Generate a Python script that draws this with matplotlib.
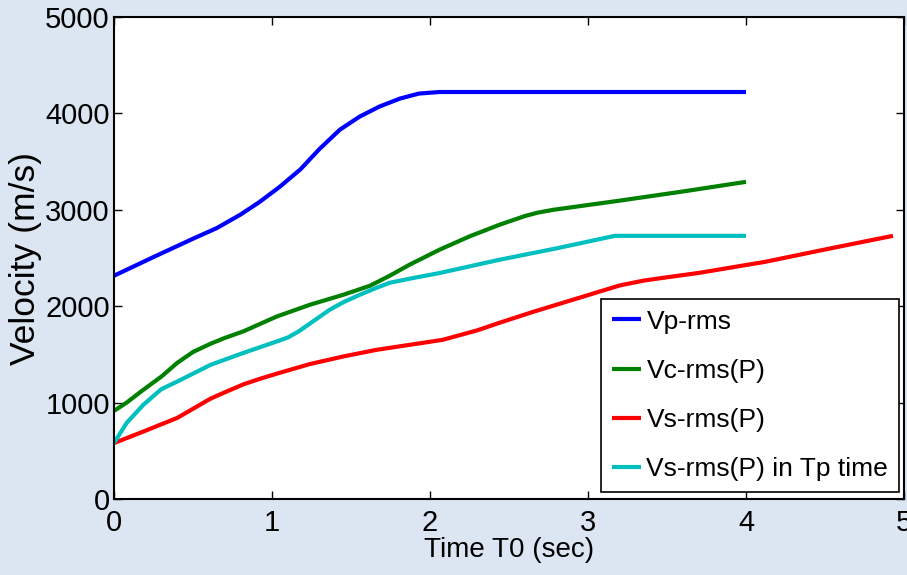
import matplotlib
matplotlib.use("Agg")
import matplotlib.pyplot as plt

# ---- data ----
t_vp = [0, 0.25, 0.5, 0.65, 0.8, 0.92, 1.05, 1.18, 1.30, 1.43, 1.555, 1.68, 1.81, 1.93, 2.06, 3.0, 4.0]
vp = [2316, 2510, 2700, 2810, 2950, 3080, 3240, 3420, 3630, 3832, 3967, 4071, 4154, 4206, 4222, 4222, 4222]

t_vc = [0, 0.08, 0.185, 0.30, 0.40, 0.50, 0.61, 0.70, 0.82, 1.03, 1.24, 1.45, 1.62, 1.745, 1.87, 2.06,
        2.25, 2.44, 2.6, 2.68, 2.78, 3.2, 3.6, 4.0]
vc = [914, 1000, 1132, 1270, 1412, 1525, 1610, 1670, 1740, 1893, 2015, 2118, 2212, 2316, 2430, 2586,
      2724, 2845, 2935, 2970, 3000, 3095, 3190, 3290]

t_vs = [0, 0.185, 0.40, 0.61, 0.72, 0.82, 0.92, 1.03, 1.24, 1.45, 1.66, 1.87, 2.08, 2.3, 2.44, 2.65,
        3.07, 3.2, 3.35, 3.5, 3.70, 4.12, 4.55, 4.93]
vs = [580, 699, 841, 1040, 1120, 1190, 1245, 1300, 1400, 1478, 1547, 1599, 1651, 1750, 1828, 1940,
      2150, 2215, 2265, 2300, 2345, 2460, 2605, 2730]

t_vst = [0, 0.08, 0.185, 0.30, 0.40, 0.61, 0.82, 1.03, 1.10, 1.17, 1.24, 1.365, 1.45, 1.555, 1.66,
         1.745, 1.87, 2.06, 2.25, 2.44, 2.8, 3.17, 4.0]
vst = [580, 789, 976, 1140, 1218, 1391, 1516, 1634, 1675, 1740, 1820, 1963, 2040, 2118, 2190,
       2243, 2285, 2344, 2413, 2482, 2600, 2730, 2730]

labels = ["Vp-rms", "Vc-rms(P)", "Vs-rms(P)", "Vs-rms(P) in Tp time"]
colors = ["#0000ff", "#008000", "#ff0000", "#00bfbf"]

x_ticks = [0, 1, 2, 3, 4, 5]
y_ticks = [0, 1000, 2000, 3000, 4000, 5000]

# ---- plot ----
plt.rcParams['font.family'] = ['Liberation Sans Narrow', 'Liberation Sans', 'DejaVu Sans']
bg = "#dce6f2"
fig = plt.figure(figsize=(9.07, 5.75), dpi=100, facecolor=bg)
ax = fig.add_axes([0.1257, 0.1322, 0.8710, 0.8382])
ax.set_facecolor("white")

series = [(t_vp, vp), (t_vc, vc), (t_vs, vs), (t_vst, vst)]
for (tt, vv), lab, col in zip(series, labels, colors):
    ax.plot(tt, vv, color=col, lw=3.0, label=lab, solid_capstyle='butt',
            solid_joinstyle='round')

ax.set_xlim(0, 5)
ax.set_ylim(0, 5000)
ax.set_xticks(x_ticks)
ax.set_yticks(y_ticks)
ax.tick_params(direction='in', top=True, right=True, length=6, width=1,
               labelsize=21)
ax.tick_params(axis='x', pad=7)
ax.tick_params(axis='y', pad=3)
for s in ax.spines.values():
    s.set_linewidth(1.5)
ax.set_xlabel("Time T0 (sec)", fontsize=20, labelpad=0)
ax.set_ylabel("Velocity (m/s)", fontsize=25.5, labelpad=2)

leg = ax.legend(loc='lower right', bbox_to_anchor=(0.994, 0.0145), fontsize=19,
                frameon=True, fancybox=False, framealpha=1, edgecolor='black',
                handlelength=1.1, handletextpad=0.2, labelspacing=0.95,
                borderpad=0.42, borderaxespad=0)
leg.get_frame().set_linewidth(1.2)

fig.savefig("out.png", dpi=100, facecolor=bg)
